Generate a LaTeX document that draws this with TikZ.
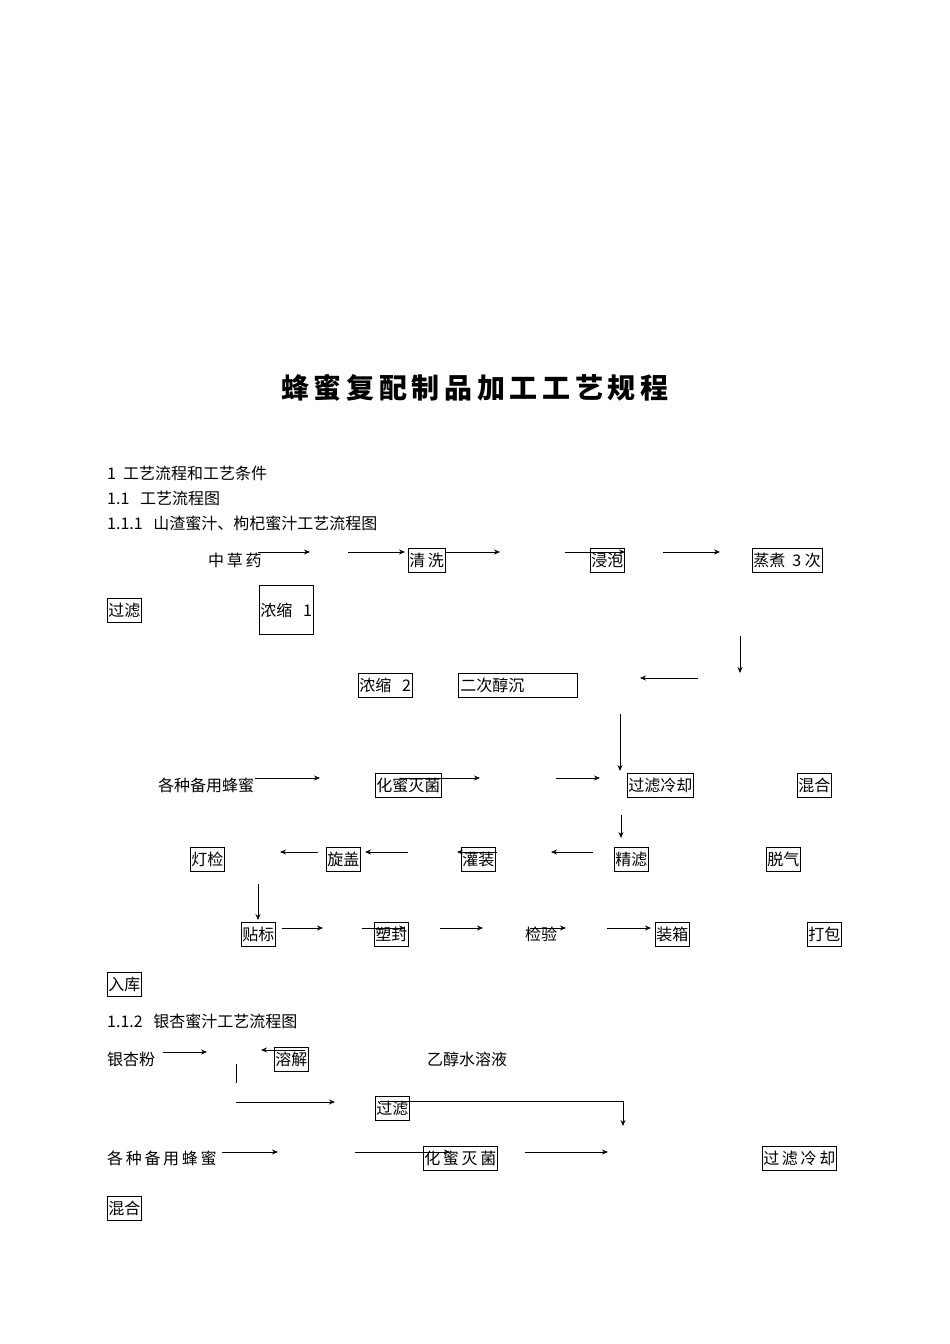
\documentclass[tikz,border=0pt]{standalone}
\usepackage{fontspec}
\setmainfont{Noto Sans CJK SC}
\usetikzlibrary{arrows.meta}
\tikzset{
 bx/.style={draw,line width=0.6pt,anchor=west,inner xsep=1pt,inner ysep=0pt,minimum height=24pt,font=\fontsize{16}{16}\selectfont},
 tx/.style={anchor=west,inner sep=0pt,font=\fontsize{16}{16}\selectfont},
 arr/.style={-{Stealth[length=6pt,width=5pt]},line width=0.8pt},
 ln/.style={line width=0.8pt}
}
\begin{document}
\begin{tikzpicture}[x=1pt,y=-1pt]
\useasboundingbox (0,0) rectangle (950,1344);
\node[font=\fontsize{28}{28}\selectfont\bfseries] (title) at (475,388) {蜂\,蜜\,复\,配\,制\,品\,加\,工\,工\,艺\,规\,程};
\node[tx] (h1) at (107,473) {1\ \ 工艺流程和工艺条件};
\node[tx] (h2) at (107,498) {1.1\ \ \ 工艺流程图};
\node[tx] (h3) at (107,523) {1.1.1\ \ \ 山渣蜜汁、枸杞蜜汁工艺流程图};
% row 1
\node[tx] (zcy) at (208,560) {中\,草\,药};
\node[bx] (qx) at (408,560) {清\,洗};
\node[bx] (jp) at (590,560) {浸泡};
\node[bx] (zz) at (752,560) {蒸煮\ \ 3\ 次};
\draw[arr] (258,552) -- (310,552);
\draw[arr] (348,552) -- (405,552);
\draw[arr] (445,552) -- (500,552);
\draw[arr] (565,552) -- (625,552);
\draw[arr] (663,552) -- (720,552);
% row 2
\node[bx] (gl1) at (107,610) {过滤};
\node[bx,minimum height=49pt] (ns1) at (259,610) {浓缩\ \ \ 1};
\draw[arr] (740,636) -- (740,673);
\draw[arr] (698,678) -- (640,678);
\node[bx] (ns2) at (358,685) {浓缩\ \ \ 2};
\node[bx,minimum width=119pt,align=left,text width=115pt] (ecc) at (458,685) {二次醇沉};
\draw[arr] (620,714) -- (620,771);
% row 3
\node[tx] (fm) at (158,785) {各种备用蜂蜜};
\node[bx] (hm) at (375,785) {化蜜灭菌};
\node[bx] (glq) at (627,785) {过滤冷却};
\node[bx] (hh) at (797,785) {混合};
\draw[arr] (255,778) -- (320,778);
\draw[arr] (400,778) -- (480,778);
\draw[arr] (556,778) -- (600,778);
\draw[arr] (621,815) -- (621,838);
% row 4
\node[bx] (dj) at (190,859) {灯检};
\node[bx] (xg) at (326,859) {旋盖};
\node[bx] (gz) at (461,859) {灌装};
\node[bx] (jl) at (614,859) {精滤};
\node[bx] (tq) at (766,859) {脱气};
\draw[arr] (318,852) -- (280,852);
\draw[arr] (408,852) -- (365,852);
\draw[arr] (497,852) -- (457,852);
\draw[arr] (593,852) -- (551,852);
\draw[arr] (258,884) -- (258,920);
% row 5
\node[bx] (tb) at (241,934) {贴标};
\node[bx] (sf) at (374,934) {塑封};
\node[tx] (jy) at (525,934) {检验};
\node[bx] (zx) at (655,934) {装箱};
\node[bx] (db) at (807,934) {打包};
\draw[arr] (282,928) -- (323,928);
\draw[arr] (362,928) -- (405,928);
\draw[arr] (440,928) -- (483,928);
\draw[arr] (530,928) -- (566,928);
\draw[arr] (607,928) -- (651,928);
\node[bx] (rk) at (107,984) {入库};
% section 1.1.2
\node[tx] (h4) at (107,1021) {1.1.2\ \ \ 银杏蜜汁工艺流程图};
\node[tx] (yxf) at (107,1059) {银杏粉};
\node[bx] (rj) at (274,1059) {溶解};
\node[tx] (yc) at (427,1059) {乙醇水溶液};
\draw[arr] (163,1052) -- (207,1052);
\draw[arr] (305,1050) -- (261,1050);
\draw[ln] (236,1064) -- (236,1083);
\draw[arr] (236,1102) -- (335,1102);
\node[bx] (gl2) at (375,1108) {过滤};
\draw[arr] (380,1101) -- (623,1101) -- (623,1126);
\node[tx] (fm2) at (107,1158) {各\,种\,备\,用\,蜂\,蜜};
\node[bx] (hm2) at (423,1158) {化\,蜜\,灭\,菌};
\node[bx] (glq2) at (762,1158) {过\,滤\,冷\,却};
\draw[arr] (222,1152) -- (278,1152);
\draw[arr] (355,1152) -- (450,1152);
\draw[arr] (525,1152) -- (608,1152);
\node[bx] (hh2) at (107,1208) {混合};
\end{tikzpicture}
\end{document}
